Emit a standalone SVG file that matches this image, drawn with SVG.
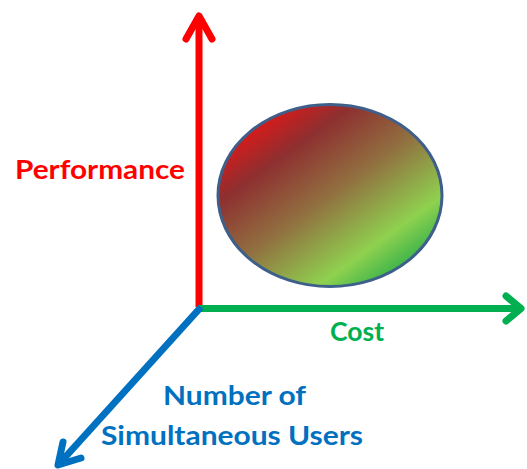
<svg xmlns="http://www.w3.org/2000/svg" width="527" height="469" viewBox="0 0 527 469">
  <style>
    .axis { fill: none; stroke-width: 7; stroke-linecap: butt; }
    .head { fill: none; stroke-width: 7; stroke-linecap: round; stroke-linejoin: round; }
    .label { font-family: Lato, "Liberation Sans", sans-serif; font-weight: bold; font-size: 26px; }
  </style>
  <defs>
    <linearGradient id="blend" gradientUnits="userSpaceOnUse" x1="271" y1="114" x2="389" y2="277">
      <stop offset="0" stop-color="#d81a1a"/>
      <stop offset="0.2" stop-color="#8e2f30"/>
      <stop offset="0.5" stop-color="#917040"/>
      <stop offset="0.83" stop-color="#8fd14f"/>
      <stop offset="1" stop-color="#3cb44a"/>
    </linearGradient>
  </defs>
  <rect width="527" height="469" fill="#ffffff"/>

  <g id="region">
    <ellipse cx="330" cy="195.5" rx="112" ry="91" fill="url(#blend)" stroke="#3e5f8a" stroke-width="3"/>
  </g>

  <g id="connectors">
    <!-- performance axis -->
    <line class="axis" stroke="#ff0000" x1="199" y1="307" x2="199" y2="17"/>
    <polyline class="head" stroke="#ff0000" points="186,39 199,16 212,39"/>
    <!-- cost axis -->
    <line class="axis" stroke="#00b050" x1="199" y1="308.5" x2="519" y2="308.5"/>
    <polyline class="head" stroke="#00b050" points="506,296 521,308.5 506,321"/>
    <!-- users axis -->
    <line class="axis" stroke="#0070c0" x1="201" y1="307" x2="59" y2="464"/>
    <polyline class="head" stroke="#0070c0" points="63,442 58,465 81,458"/>
  </g>

  <g id="label-performance">
    <text class="label" fill="#ff0000" x="15" y="179" font-size="27" textLength="170" lengthAdjust="spacingAndGlyphs">Performance</text>
  </g>
  <g id="label-cost">
    <text class="label" fill="#00b050" x="330" y="341" textLength="54" lengthAdjust="spacingAndGlyphs">Cost</text>
  </g>
  <g id="label-users">
    <text class="label" fill="#0070c0" x="163" y="405" textLength="143" lengthAdjust="spacingAndGlyphs">Number of</text>
    <text class="label" fill="#0070c0" x="101" y="445" textLength="262" lengthAdjust="spacingAndGlyphs">Simultaneous Users</text>
  </g>
</svg>
